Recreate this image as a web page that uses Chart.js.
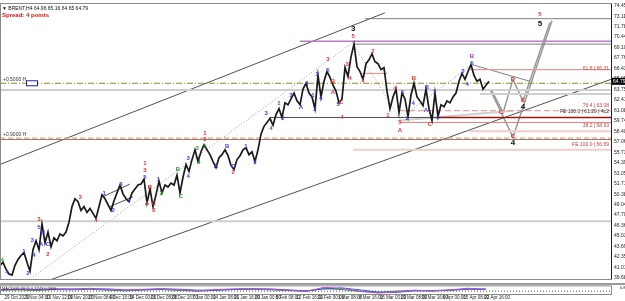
<!DOCTYPE html>
<html>
<head>
<meta charset="utf-8">
<script src="https://cdn.jsdelivr.net/npm/chart.js@4.4.1/dist/chart.umd.min.js"></script>
<style>
  html, body { margin: 0; padding: 0; background: #fff; }
  #wrap { position: relative; width: 625px; height: 301px; overflow: hidden; }
  #main { position: absolute; left: 0; top: 0; }
  #ind { position: absolute; left: 0; top: 283px; }
</style>
</head>
<body>
<div id="wrap">
  <canvas id="main" width="625" height="283"></canvas>
  <canvas id="ind" width="625" height="18"></canvas>
</div>
<script>
// H4 closes, one every bar slot
const closes = [
  41.29, 41.67, 40.79, 40.17, 40.04, 41.29, 42.04, 42.54, 42.92, 41.67,
  40.54, 43.29, 44.42, 43.29, 46.54, 44.17, 45.54, 43.67, 44.79, 44.42,
  45.29, 45.04, 45.54, 46.79, 48.79, 49.79, 49.42, 48.29, 48.79, 48.04,
  48.54, 47.92, 47.29, 48.79, 50.29, 49.79, 49.04, 48.29, 49.54, 50.54,
  51.54, 50.42, 49.79, 49.42, 50.54, 51.04, 51.54, 51.67, 52.29, 49.29,
  51.04, 48.79, 50.29, 52.04, 50.54, 51.54, 51.29, 51.79, 51.54, 52.79,
  50.54, 52.54, 54.17, 53.29, 54.79, 56.04, 54.54, 55.79, 56.67, 56.04,
  55.42, 54.54, 53.79, 55.04, 55.42, 56.04, 55.29, 54.04, 53.54, 54.79,
  55.29, 56.04, 56.29, 55.42, 55.79, 54.54, 56.04, 58.04, 59.04, 59.54,
  60.04, 59.17, 60.54, 61.29, 60.17, 62.04, 61.79, 62.54, 63.29, 62.29,
  61.79, 63.79, 64.54, 63.29, 62.79, 61.29, 65.54, 62.79, 64.79, 66.04,
  65.29, 64.29, 63.54, 62.04, 62.54, 66.54, 65.42, 67.92, 69.54, 66.67,
  66.04, 65.04, 67.04, 67.54, 68.29, 67.29, 67.04, 66.29, 66.54, 63.54,
  61.29, 62.79, 63.79, 60.79, 63.29, 62.54, 60.29, 63.04, 64.54, 62.79,
  62.29, 61.67, 63.79, 61.29, 59.79, 63.29, 60.29, 61.79, 61.54, 62.29,
  62.04, 62.79, 63.29, 64.79, 65.79, 65.04, 66.04, 66.92, 65.54, 64.79,
  65.04, 63.79, 64.29, 64.79
];
const lastPrice = 64.79;

const priceTicks = [74.45, 73.11, 71.78, 70.44, 69.10, 67.76, 66.43, 65.09, 63.75, 62.41,
  61.08, 59.74, 58.40, 57.06, 55.73, 54.39, 53.05, 51.71, 50.38, 49.04,
  47.70, 46.36, 45.03, 43.69, 42.35, 41.01, 39.68];

const timeLabels = ["29 Oct 2020", "3 Nov 04:00", "10 Nov 12:00", "19 Nov 20:00", "27 Nov 08:00",
  "4 Dec 16:00", "14 Dec 00:00", "21 Dec 08:00", "29 Dec 16:00", "7 Jan 00:00",
  "14 Jan 08:00", "21 Jan 16:00", "29 Jan 00:00", "5 Feb 08:00", "12 Feb 16:00",
  "22 Feb 00:00", "1 Mar 08:00", "8 Mar 16:00", "16 Mar 00:00", "23 Mar 08:00",
  "30 Mar 16:00", "8 Apr 00:00", "15 Apr 08:00", "22 Apr 16:00"];
const timeTickBars = [1.5, 8.5, 15.4, 22.4, 29.3, 36.3, 43.2, 50.2, 57.1, 64.1,
  71, 78, 84.9, 91.9, 98.8, 105.8, 112.7, 119.7, 126.6, 133.6,
  140.5, 147.5, 154.4, 161.4];

// horizontal levels: price, from bar, to bar, style
const hLevels = [
  [72.79, 121.7, 204, 'gray'],
  [69.92, 100, 204, 'purple'],
  [69.54, 117.7, 204, 'gray'],
  [66.29, 156.7, 204, 'pink'],
  [65.79, 120.7, 129, 'pink'],
  [64.54, 0, 204, 'olive'],
  [63.67, 0, 204, 'silver'],
  [61.04, 133.3, 204, 'pinkDash'],
  [60.17, 90, 145.7, 'dark'],
  [60.17, 145.7, 204, 'darkred'],
  [59.54, 133.3, 204, 'red'],
  [58.42, 156.7, 204, 'lightpink'],
  [57.54, 0, 204, 'orange'],
  [57.35, 0, 204, 'gray'],
  [56.04, 117.7, 204, 'lightpink'],
  [63.17, 160, 204, 'silver'],
  [46.92, 0, 204, 'silver']
];

// sloped lines: bar1, price1, bar2, price2, style
const trendLines = [
  [16.7, 39.42, 203.7, 65.04, 'dark'],
  [0, 54.17, 128.3, 73.54, 'dark'],
  [11, 39.79, 117.7, 69.79, 'dotted'],
  [117.7, 69.54, 133.3, 60.04, 'reddot'],
  [133.3, 60.04, 157.3, 66.92, 'dotted'],
  [34.3, 50.04, 43.3, 51.67, 'dark'],
  [36.7, 48.79, 44.3, 50.04, 'dark'],
  [157.3, 66.92, 176.7, 64.79, 'gray'],
  [133.3, 59.79, 171, 61.04, 'silver']
];

// projected paths after the last bar
const projA = [[163.3, 63.79], [171, 57.67], [184, 72.54]];
const projB = [[164, 63.54], [167.7, 60.79], [171, 65.04], [174.3, 62.29], [183.3, 72.29]];

// wave counts: bar, price, text, colour key
const waveLabels = [
  [0.7, 41.92, '4', 'g'], [2.3, 40.42, '4', 'b'], [8, 43.04, '1', 'b'], [9.3, 40.29, '2', 'b'],
  [10.7, 44.54, '3', 'b'], [11.3, 42.54, '4', 'b'], [13, 47.17, '3', 'r'], [13, 46.17, '5', 'b'],
  [14.3, 45.54, 'B', 'b'], [13.7, 43.92, 'A', 'b'], [16, 43.92, 'C', 'b'], [16, 42.67, '2', 'r'],
  [26.7, 49.92, '3', 'r'], [32, 47.04, '4', 'r'], [34.7, 50.54, '1', 'b'], [37.7, 48.29, '2', 'b'],
  [40.3, 51.67, '3', 'b'], [43, 49.42, '4', 'b'], [48.3, 54.29, '1', 'r'], [48.3, 53.42, '3', 'r'],
  [48.3, 52.54, '5', 'b'], [49, 49.17, 'A', 'r'], [50, 51.29, 'B', 'r'], [51.3, 49.17, 'C', 'r'],
  [51.3, 48.29, '2', 'r'], [52.7, 52.29, '1', 'b'], [53.7, 50.54, '2', 'g'], [59.3, 53.54, 'B', 'g'],
  [60.3, 50.04, 'C', 'g'], [62.7, 54.92, '3', 'b'], [62.7, 52.67, '4', 'b'], [65.7, 56.29, '3', 'g'],
  [66.3, 54.42, '4', 'g'], [68.3, 58.17, '1', 'r'], [68.3, 57.42, '3', 'r'], [68.3, 56.54, '5', 'g'],
  [72, 53.92, 'A', 'b'], [75.7, 56.42, 'B', 'b'], [77.7, 53.92, 'C', 'b'], [77.7, 53.17, '2', 'r'],
  [82, 56.54, '1', 'b'], [85, 54.42, '2', 'b'], [88.7, 60.67, '3', 'b'], [90.3, 58.79, '4', 'g'],
  [93, 61.92, '1', 'b'], [94.3, 60.04, '2', 'b'], [97, 63.04, '3', 'b'], [100.3, 61.42, 'A', 'b'],
  [102.3, 64.54, '4', 'b'], [104.3, 63.04, '1', 'b'], [105, 61.17, '2', 'b'], [105.7, 65.67, '3', 'b'],
  [107, 62.67, '4', 'b'], [109.3, 66.17, '5', 'b'], [109.3, 67.54, '3', 'r'], [111, 64.79, 'B', 'r'],
  [111, 63.42, 'A', 'r'], [112.7, 61.79, '5', 'b'], [113.7, 62.04, 'C', 'r'], [114, 60.17, '4', 'r'],
  [115.7, 66.92, '3', 'r'], [116.7, 65.17, '4', 'r'], [117.7, 71.54, '3', 'k'], [117.7, 70.54, '5', 'r'],
  [121, 64.92, '1', 'r'], [124.3, 68.67, '2', 'r'], [129.3, 60.42, '1', 'r'], [131.7, 63.92, '4', 'r'],
  [133.3, 59.54, '5', 'r'], [133.3, 58.54, 'A', 'r'], [134.3, 63.42, '1', 'b'], [135.7, 60.04, '2', 'b'],
  [138, 65.17, 'B', 'r'], [137.7, 61.92, '4', 'b'], [142, 61.04, 'A', 'b'], [142.3, 64.04, 'B', 'b'],
  [143.3, 59.29, 'C', 'r'], [144.7, 63.42, '1', 'b'], [146, 60.17, '2', 'b'], [154.3, 66.04, '3', 'b'],
  [155.7, 64.42, '4', 'b'], [157.3, 67.04, '5', 'b'], [157.3, 67.92, 'B', 'p'],
  [167, 60.79, 'C', 'r'], [171, 65.04, 'D', 'r'], [174.3, 62.42, 'E', 'r'], [174.3, 61.54, '4', 'k'],
  [171, 57.79, 'C', 'r'], [171, 56.92, '4', 'k'], [180, 73.29, '5', 'r'], [180, 72.17, '5', 'k']
];

// fibo texts on the right edge: price, text
const fiboTexts = [
  [66.04, '61.8 | 66.31'],
  [61.42, '76.4 | 63.08'],
  [60.54, 'FE 100.0 | 61.29 | 4c2'],
  [58.79, '38.2 | 58.93'],
  [56.42, 'FE 100.0 | 56.59']
];

// oscillator window values (every 6 bars)
const oscBars = [0, 6, 12, 18, 24, 30, 36, 42, 48, 54, 60, 66, 72, 78, 84, 90, 96, 102, 108, 114, 120, 126, 132, 138, 144, 150, 156, 162];
const oscMain = [0.2, 0.4, 0.1, 0.5, 0.3, 0.6, 0.2, 0.0, 0.3, 0.5, 0.1, -0.2, 0.2, 0.4, 0.5, 0.3, 0.0, -0.4, 0.9, 0.6, -0.3, -0.9, -0.5, 0.0, -0.2, 0.1, 0.6, 0.3];
const oscSignal = [0.1, 0.3, 0.3, 0.3, 0.4, 0.4, 0.4, 0.1, 0.1, 0.4, 0.3, 0.0, 0.0, 0.3, 0.4, 0.4, 0.1, -0.2, 0.4, 0.7, 0.1, -0.6, -0.7, -0.2, -0.1, 0.0, 0.3, 0.4];
const oscHist = [0, 0.1, -0.1, 0.2, 0.1, 0.3, 0, -0.2, 0.1, 0.2, -0.1, -0.3, 0, 0.2, 0.3, 0.1, -0.1, -0.3, 0.5, 0.2, -0.4, -0.7, -0.3, -0.1, -0.3, 0, 0.4, 0.2];

const styles = {
  gray: { c: '#808080', w: 1 },
  dark: { c: '#505050', w: 1 },
  purple: { c: '#b57cc9', w: 1.5 },
  pink: { c: '#e39a9a', w: 1.2 },
  olive: { c: '#8c8c2c', w: 1.2, d: [6, 2, 1, 2] },
  silver: { c: '#cfcfcf', w: 2 },
  pinkDash: { c: '#e8a2a2', w: 1.2, d: [6, 3] },
  darkred: { c: '#9c1414', w: 1.6 },
  red: { c: '#e07a7a', w: 1 },
  lightpink: { c: '#f2cccc', w: 2 },
  orange: { c: '#ff9b6b', w: 1.3, d: [5, 3] },
  dotted: { c: '#9a9a9a', w: 1, d: [1, 2] },
  reddot: { c: '#e58a8a', w: 1, d: [1, 2] },
  proj: { c: '#9a9a9a', w: 1.5 }
};
const waveColors = { b: '#3b3bf0', r: '#ee3030', g: '#2a9a2a', k: '#111', p: '#9a40c0' };
const FONT = '"Liberation Sans", Arial, sans-serif';
const X_MAX = 611 / 3;

function lineSet(points, st) {
  const s = styles[st];
  return {
    type: 'line',
    data: points.map(p => ({ x: p[0], y: p[1] })),
    borderColor: s.c,
    borderWidth: s.w,
    borderDash: s.d || [],
    pointRadius: 0,
    tension: 0,
    order: 2
  };
}

const datasets = [];
hLevels.forEach(l => datasets.push(lineSet([[l[1], l[0]], [l[2], l[0]]], l[3])));
trendLines.forEach(t => datasets.push(lineSet([[t[0], t[1]], [t[2], t[3]]], t[4])));
datasets.push(lineSet(projA, 'proj'));
datasets.push(lineSet(projB, 'proj'));
datasets.push({
  type: 'line',
  data: closes.map((c, i) => ({ x: i, y: c })),
  borderColor: '#1a1a1a',
  borderWidth: 1.7,
  pointRadius: 0,
  tension: 0,
  order: 0
});

const overlay = {
  id: 'overlay',
  afterDatasetsDraw(chart) {
    const { ctx, chartArea: a, scales: { x, y } } = chart;
    ctx.save();
    // frame
    ctx.strokeStyle = '#8a8a8a';
    ctx.lineWidth = 1;
    ctx.strokeRect(a.left + 0.5, a.top - 0.5, a.right - a.left, a.bottom - a.top + 1);
    ctx.strokeStyle = '#222';
    ctx.beginPath(); ctx.moveTo(a.right + 0.5, a.top); ctx.lineTo(a.right + 0.5, a.bottom); ctx.stroke();

    // wave labels
    ctx.textAlign = 'center';
    ctx.textBaseline = 'middle';
    waveLabels.forEach(([b, p, t, c]) => {
      ctx.fillStyle = waveColors[c];
      ctx.font = (c === 'k' ? 'bold 8px ' : 'bold 6px ') + FONT;
      ctx.fillText(t, x.getPixelForValue(b), y.getPixelForValue(p));
    });

    // fibo texts
    ctx.textAlign = 'right';
    ctx.textBaseline = 'bottom';
    ctx.font = '5px ' + FONT;
    fiboTexts.forEach(([p, t], i) => {
      ctx.fillStyle = i === 2 ? '#333' : '#d04040';
      ctx.fillText(t, a.right - 2, y.getPixelForValue(p));
    });

    // left level captions
    ctx.textAlign = 'left';
    ctx.fillStyle = '#333';
    ctx.fillText('+0.5000 H', a.left + 3, y.getPixelForValue(64.54) - 1);
    ctx.fillText('+0.9000 H', a.left + 3, y.getPixelForValue(57.54) - 1);
    const oy = y.getPixelForValue(64.54);
    ctx.fillStyle = '#fff';
    ctx.strokeStyle = '#23239a';
    ctx.fillRect(a.left + 26, oy - 3, 11, 5);
    ctx.strokeRect(a.left + 26.5, oy - 2.5, 11, 5);

    // header
    ctx.textBaseline = 'top';
    ctx.fillStyle = '#111';
    ctx.font = '5px ' + FONT;
    ctx.fillText('\u25BC BRENT,H4 64.96 65.16 64.65 64.79', a.left + 2, a.top + 2);
    ctx.fillStyle = '#e01010';
    ctx.font = 'bold 6px ' + FONT;
    ctx.fillText('Spread: 4 points', a.left + 2, a.top + 8);

    // last price box
    const py = y.getPixelForValue(lastPrice);
    ctx.fillStyle = '#000';
    ctx.fillRect(a.right + 1, py - 3.5, 14, 7);
    ctx.fillStyle = '#fff';
    ctx.textBaseline = 'middle';
    ctx.font = '5px ' + FONT;
    ctx.fillText(lastPrice.toFixed(2), a.right + 2, py);
    ctx.restore();
  }
};

new Chart(document.getElementById('main'), {
  type: 'line',
  data: { datasets },
  options: {
    responsive: false,
    animation: false,
    devicePixelRatio: 1,
    layout: { padding: { top: 1, bottom: 1, left: 0, right: 0 } },
    plugins: { legend: { display: false }, tooltip: { enabled: false } },
    scales: {
      x: { type: 'linear', min: 0, max: X_MAX, display: false },
      y: {
        position: 'right',
        min: 39.54,
        max: 74.665,
        grid: { display: false, drawTicks: true, tickLength: 2 },
        border: { display: false },
        afterBuildTicks: s => { s.ticks = priceTicks.map(v => ({ value: v })); },
        afterFit: s => { s.width = 14; },
        ticks: {
          color: '#222',
          padding: 1,
          font: { size: 5, family: 'Liberation Sans' },
          callback: v => v.toFixed(2)
        }
      }
    }
  },
  plugins: [overlay]
});

const indDecor = {
  id: 'indDecor',
  beforeDraw(chart) {
    const { ctx, width } = chart;
    ctx.save();
    ctx.fillStyle = '#9c9c9c';
    ctx.fillRect(0, 0, width, 2);
    ctx.restore();
  },
  afterDatasetsDraw(chart) {
    const { ctx, chartArea: a } = chart;
    ctx.save();
    ctx.strokeStyle = '#8a8a8a';
    ctx.strokeRect(a.left + 0.5, a.top - 0.5, a.right - a.left, a.bottom - a.top + 1);
    ctx.fillStyle = '#222';
    ctx.font = '4px ' + FONT;
    ctx.textBaseline = 'top';
    ctx.fillText('MACD(12,26,9) 0.1243 0.2311', a.left + 2, a.top);
    ctx.restore();
  }
};

new Chart(document.getElementById('ind'), {
  type: 'line',
  data: {
    datasets: [
      { data: oscBars.map((b, i) => ({ x: b, y: oscMain[i] })), borderColor: '#b84bd8', borderWidth: 1, pointRadius: 0 },
      { data: oscBars.map((b, i) => ({ x: b, y: oscSignal[i] })), borderColor: '#3d52e0', borderWidth: 1, pointRadius: 0 },
      { data: oscBars.map((b, i) => ({ x: b, y: oscHist[i] })), borderColor: '#2a9a2a', borderWidth: 1, pointRadius: 0 },
      { data: [{ x: 0, y: -0.3 }, { x: X_MAX, y: -0.3 }], borderColor: '#555', borderWidth: 1, borderDash: [1, 2], pointRadius: 0 }
    ]
  },
  options: {
    responsive: false,
    animation: false,
    devicePixelRatio: 1,
    layout: { padding: { top: 2, bottom: 0, left: 0, right: 0 } },
    plugins: { legend: { display: false }, tooltip: { enabled: false } },
    scales: {
      x: {
        type: 'linear', min: 0, max: X_MAX,
        grid: { display: false, drawTicks: true, tickLength: 1 },
        border: { display: false },
        afterBuildTicks: s => { s.ticks = timeTickBars.map(v => ({ value: v })); },
        afterFit: s => { s.height = 7; },
        ticks: {
          autoSkip: false, maxRotation: 0, align: 'start', padding: 0,
          color: '#222',
          font: { size: 4.5, family: 'Liberation Sans' },
          callback: (v, i) => timeLabels[i]
        }
      },
      y: {
        position: 'right', min: -1.2, max: 1.2,
        grid: { display: false },
        border: { display: false },
        afterBuildTicks: s => { s.ticks = [{ value: 0.8 }, { value: -0.3 }]; },
        afterFit: s => { s.width = 14; },
        ticks: { color: '#222', padding: 1, font: { size: 4, family: 'Liberation Sans' }, callback: v => v.toFixed(2) }
      }
    }
  },
  plugins: [indDecor]
});
</script>
</body>
</html>
